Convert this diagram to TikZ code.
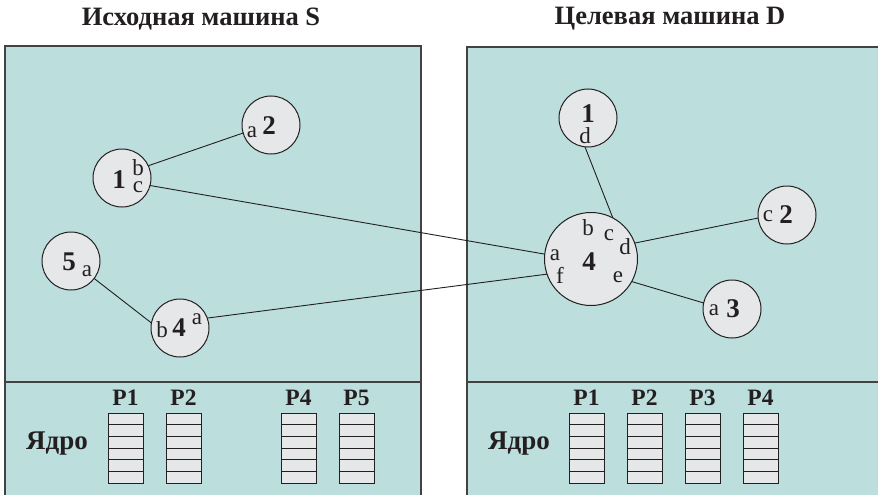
\documentclass[tikz,border=0pt]{standalone}
\usepackage{fontspec}
\setmainfont{Liberation Serif}
\definecolor{panel}{HTML}{BCDEDD}
\definecolor{proc}{HTML}{E6E7E8}
\definecolor{ink}{HTML}{231F20}
\tikzset{
  panelbox/.style={draw=ink!85, line width=1.8pt, fill=panel},
  proc/.style={circle, draw=ink, line width=1pt, fill=proc, minimum size=58pt, inner sep=0pt, outer sep=0pt},
  bigproc/.style={proc, minimum size=93pt},
  num/.style={font=\fontsize{27}{30}\selectfont\bfseries, inner sep=0pt, text=ink},
  port/.style={font=\fontsize{23}{26}\selectfont, inner sep=0pt, text=ink},
  title/.style={font=\fontsize{26.5}{30}\selectfont\bfseries, inner sep=0pt, text=ink},
  plabel/.style={font=\fontsize{23.5}{26}\selectfont\bfseries, inner sep=0pt, text=ink},
  kern/.style={font=\fontsize{27}{30}\selectfont\bfseries, inner sep=0pt, text=ink},
  link/.style={draw=ink, line width=0.9pt},
  cell/.style={draw=ink, line width=0.9pt, fill=proc}
}
\begin{document}
\begin{tikzpicture}[x=1pt,y=-1pt]
\useasboundingbox (0,0) rectangle (878,495);
\clip (0,0) rectangle (878,495);
% panels
\draw[panelbox] (5,46) rectangle (421,505);
\draw[panelbox] (467,47) rectangle (890,505);
\draw[draw=ink!85, line width=1.8pt] (5,382) -- (421,382);
\draw[draw=ink!85, line width=1.8pt] (467,382) -- (890,382);
% titles
\node[title] (tS) at (201,19) {Исходная машина S};
\node[title] (tD) at (670,19) {Целевая машина D};
% left processes
\node[proc] (L1) at (122,178) {};
\node[proc] (L2) at (271,125) {};
\node[proc] (L5) at (71,261) {};
\node[proc] (L4) at (180,328) {};
% right processes
\node[proc] (R1) at (588,118) {};
\node[bigproc] (R4) at (591,259) {};
\node[proc] (R2) at (787,215) {};
\node[proc] (R3) at (732,309) {};
% connectors
\draw[link] (L1.25) -- (L2.196);
\draw[link] (L1.345) -- (R4.174);
\draw[link] (L5.323) -- (L4.170);
\draw[link] (L4.20) -- (R4.199);
\draw[link] (R1.264) -- (R4.62);
\draw[link] (R4.20) -- (R2.186);
\draw[link] (R4.331) -- (R3.168);
% labels left
\node[num] (nL1) at (119,180) {1};
\node[port] (pL1b) at (138,168) {b};
\node[port] (pL1c) at (138,187) {c};
\node[port] (pL2a) at (252,132) {a};
\node[num] (nL2) at (269,126) {2};
\node[num] (nL5) at (69,262) {5};
\node[port] (pL5a) at (87,271) {a};
\node[port] (pL4b) at (162,330) {b};
\node[num] (nL4) at (179,328) {4};
\node[port] (pL4a) at (197,319) {a};
% labels right
\node[num] (nR1) at (588,114) {1};
\node[port] (pR1d) at (585,136) {d};
\node[port] (pR4a) at (555,255) {a};
\node[port] (pR4b) at (588,228) {b};
\node[port] (pR4c) at (609,235) {c};
\node[port] (pR4d) at (625,247) {d};
\node[num] (nR4) at (589,262) {4};
\node[port] (pR4f) at (560,275) {f};
\node[port] (pR4e) at (618,277) {e};
\node[port] (pR2c) at (768,216) {c};
\node[num] (nR2) at (786,215) {2};
\node[port] (pR3a) at (714,310) {a};
\node[num] (nR3) at (733,309) {3};
% kernel rows
\node[kern] (kS) at (57,444) {Ядро};
\node[kern] (kD) at (519,444) {Ядро};
\foreach \x/\lab in {108/P1,166/P2,281/P4,339/P5,569/P1,627/P2,685/P3,743/P4}{
  \node[plabel] at (\x+17.5,398) {\lab};
  \foreach \k in {0,...,5}{
    \draw[cell] (\x,413+\k*11.667) rectangle (\x+35,413+\k*11.667+11.667);
  }
}
\end{tikzpicture}
\end{document}
